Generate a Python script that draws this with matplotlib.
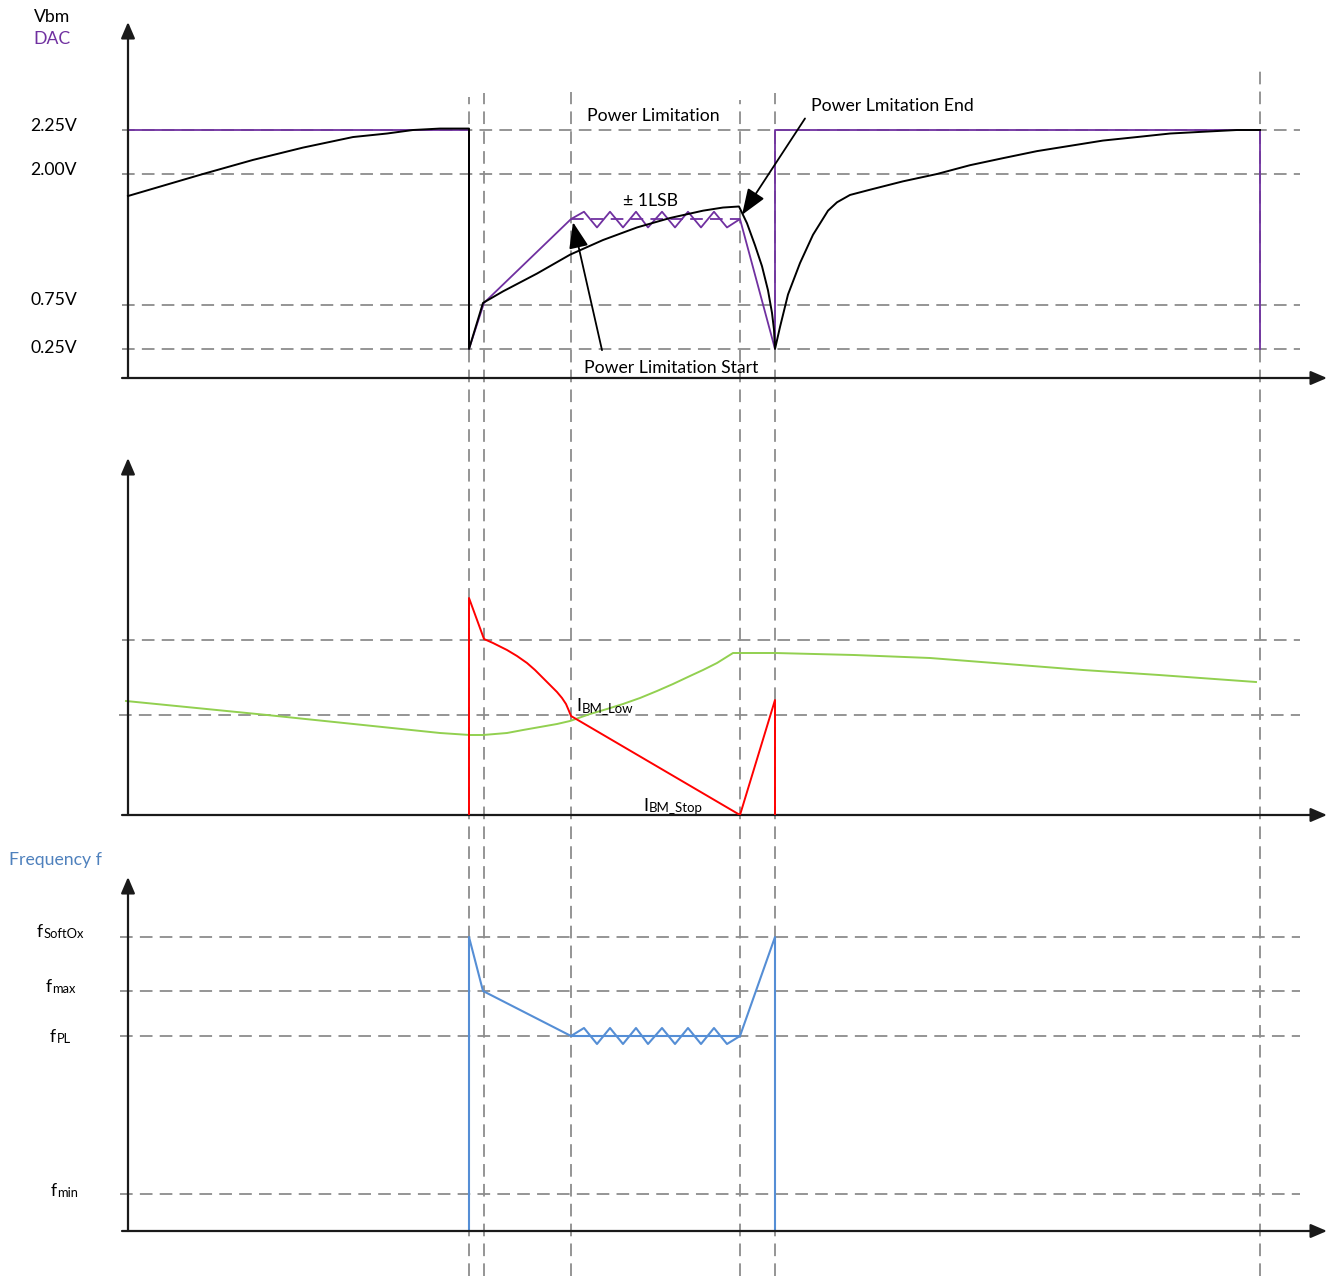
import numpy as np
import matplotlib
matplotlib.use("Agg")
import matplotlib.pyplot as plt

plt.rcParams['font.family'] = ['Lato', 'DejaVu Sans']

# ---------------- data (time in arbitrary units) ----------------
T_EVENTS = [34.1, 35.6, 44.3, 61.2, 64.7, 113.2]

# top panel: Vbm / DAC in volts
V_LEVELS = [0.25, 0.75, 2.00, 2.25]
V_LABELS = ["0.25V", "0.75V", "2.00V", "2.25V"]

VBM_T = [0.0, 2.5, 7.5, 12.5, 17.5, 22.5, 25.9, 28.5, 31.2, 34.1,
         34.1, 35.5, 37.5, 40.9, 44.2, 47.5, 50.9, 54.2, 57.5, 59.5, 61.1,
         61.9, 62.7, 63.4, 64.0, 64.4, 64.6, 64.7,
         65.2, 66.0, 67.2, 68.5, 70.0, 70.9, 72.2, 74.2, 77.5, 80.9, 84.2,
         87.5, 90.9, 94.2, 97.5, 100.9, 104.2, 107.5, 110.9, 113.2]
VBM_V = [1.79, 1.86, 2.00, 2.08, 2.15, 2.21, 2.23, 2.25, 2.26, 2.26,
         0.25, 0.77, 0.88, 1.05, 1.23, 1.37, 1.49, 1.58, 1.65, 1.68, 1.69,
         1.53, 1.32, 1.12, 0.89, 0.66, 0.47, 0.25,
         0.50, 0.85, 1.15, 1.42, 1.65, 1.73, 1.80, 1.85, 1.93, 2.00, 2.05,
         2.09, 2.13, 2.16, 2.19, 2.21, 2.23, 2.24, 2.25, 2.25]

DAC_T = [0.0, 34.1, 34.1, 35.6, 44.3, 45.6, 46.9, 48.2, 49.5, 50.8, 52.0, 53.4,
         54.7, 56.0, 57.3, 58.6, 59.9, 61.2, 64.7, 64.7, 113.2, 113.2]
DAC_V = [2.25, 2.25, 0.25, 0.77, 1.57, 1.64, 1.49, 1.64, 1.49, 1.64, 1.49, 1.64,
         1.49, 1.64, 1.49, 1.64, 1.49, 1.57, 0.25, 2.25, 2.25, 0.25]
DAC_FLAT_T = [44.3, 61.2]
DAC_FLAT_V = [1.57, 1.57]

# middle panel: currents (relative units)
I_LEVELS = [1.00, 1.75]
IBM_T = [34.1, 34.1, 35.6, 36.5, 37.9, 38.9, 39.9, 40.7, 41.5, 42.2, 42.9,
         43.4, 43.8, 44.1, 44.3, 61.2, 64.7, 64.7]
IBM_V = [0.0, 2.17, 1.76, 1.72, 1.65, 1.59, 1.52, 1.45, 1.37, 1.30, 1.23,
         1.17, 1.11, 1.04, 0.99, 0.0, 1.15, 0.0]
ILOAD_T = [-0.2, 13.9, 31.2, 34.2, 35.5, 37.9, 39.5, 41.2, 42.9, 44.2, 46.2,
           47.9, 49.5, 51.2, 52.9, 54.5, 56.2, 57.5, 58.9, 60.5, 64.7, 72.6,
           80.2, 87.9, 95.5, 103.1, 112.8]
ILOAD_V = [1.14, 1.00, 0.82, 0.80, 0.80, 0.82, 0.85, 0.88, 0.91, 0.94, 1.01,
           1.06, 1.11, 1.17, 1.24, 1.31, 1.39, 1.45, 1.52, 1.62, 1.62, 1.60,
           1.57, 1.51, 1.45, 1.40, 1.33]

# bottom panel: frequency (relative units)
F_LEVELS = [0.37, 1.95, 2.40, 2.94]
F_SUB = ["min", "PL", "max", "SoftOx"]
FREQ_T = [34.1, 34.1, 35.5, 44.3, 45.6, 46.9, 48.2, 49.5, 50.8, 52.0, 53.4,
          54.7, 56.0, 57.3, 58.6, 59.9, 61.2, 64.7, 64.7]
FREQ_V = [0.0, 2.94, 2.40, 1.95, 2.03, 1.87, 2.03, 1.87, 2.03, 1.87, 2.03,
          1.87, 2.03, 1.87, 2.03, 1.87, 1.95, 2.94, 0.0]
FREQ_FLAT_T = [44.3, 61.2]
FREQ_FLAT_V = [1.95, 1.95]

# ---------------- layout ----------------
W, H = 1337, 1276
fig = plt.figure(figsize=(W / 100, H / 100), dpi=100)


def tx(px):
    return (px - 128) / 10.0


XLIM = (tx(0), tx(W))
GRID = dict(color='#8c8c8c', lw=1.3, linestyle=(0, (7, 4)), zorder=1)
AX_ARROW = dict(arrowstyle='-|>,head_length=0.7,head_width=0.3', lw=1.6,
                color='#1a1a1a', shrinkA=0, shrinkB=0, mutation_scale=14)
PTR_ARROW = dict(arrowstyle='-|>,head_length=0.8,head_width=0.3', lw=1.3,
                 color='black', shrinkA=0, shrinkB=0, mutation_scale=20)
FS = 12.7

# background axes for event lines
bg = fig.add_axes([0, 0, 1, 1])
bg.set_xlim(*XLIM)
bg.set_ylim(0, 1)
bg.axis('off')
EVENT_TOP_PX = [97, 93, 92, 100, 93, 70]
for t, top in zip(T_EVENTS, EVENT_TOP_PX):
    bg.axvline(t, ymin=0, ymax=(H - top) / H, **GRID)


def panel(base, top):
    ax = fig.add_axes([0, (H - base) / H, 1, (base - top) / H])
    ax.set_xlim(*XLIM)
    ax.axis('off')
    return ax


def axis_arrows(ax, ytop):
    ax.annotate('', xy=(0, ytop), xytext=(0, 0), arrowprops=AX_ARROW,
                annotation_clip=False)
    ax.annotate('', xy=(tx(1327), 0), xytext=(tx(122), 0), arrowprops=AX_ARROW,
                annotation_clip=False)


def two_part(ax, x, y, main, sub, size=12.5, sub_size=9.3, color='black'):
    t1 = ax.text(x, y, main, fontsize=size, va='baseline', ha='left', color=color)
    ax.annotate(sub, xy=(1, 0), xycoords=t1, xytext=(0.3, 0),
                textcoords='offset points', fontsize=sub_size, va='bottom',
                ha='left', color=color)


# ---- top panel ----
ax1 = panel(378, 22)
V_KNOTS = [0, 0.25, 0.75, 2.0, 2.25, 3.0]
H_KNOTS = [0, 29, 73, 204, 248, 356]
ax1.set_yscale('function', functions=(lambda v: np.interp(v, V_KNOTS, H_KNOTS),
                                      lambda h: np.interp(h, H_KNOTS, V_KNOTS)))
ax1.set_ylim(0, 3.0)
V_LABEL_DY_PT = [0.4, 3.3, 2.6, 2.6]
for lv, lab, dy in zip(V_LEVELS, V_LABELS, V_LABEL_DY_PT):
    ax1.plot([tx(122), tx(1300)], [lv, lv], **GRID)
    ax1.annotate(lab, xy=(tx(77), lv), xytext=(0, dy), textcoords='offset points',
                 ha='right', va='center', fontsize=FS)
ax1.plot(DAC_T, DAC_V, color='#7030A0', lw=1.3, zorder=3)
ax1.plot(DAC_FLAT_T, DAC_FLAT_V, color='#7030A0', lw=1.3, zorder=3,
         linestyle=(0, (7, 4)))
ax1.plot(VBM_T, VBM_V, color='black', lw=1.4, zorder=4)
axis_arrows(ax1, 3.0)
ax1.text(tx(653), 2.35, 'Power Limitation', ha='center', va='center', fontsize=FS)
ax1.text(tx(651), 1.74, '± 1LSB', ha='center', va='center', fontsize=FS)
ax1.text(tx(671), 0.09, 'Power Limitation Start', ha='center', va='center', fontsize=FS)
ax1.text(tx(892), 2.42, 'Power Lmitation End', ha='center', va='center', fontsize=FS)
ax1.annotate('', xy=(tx(573), 1.54), xytext=(tx(602), 0.24), arrowprops=PTR_ARROW,
             annotation_clip=False)
ax1.annotate('', xy=(tx(742), 1.61), xytext=(tx(805), 2.33), arrowprops=PTR_ARROW,
             annotation_clip=False)
fig.text(52 / W, 1 - 17 / H, 'Vbm', ha='center', va='center', fontsize=FS)
fig.text(52 / W, 1 - 39 / H, 'DAC', ha='center', va='center', fontsize=FS,
         color='#7030A0')

# ---- middle panel ----
ax2 = panel(815, 458)
ax2.set_ylim(0, 3.57)
ax2.plot([tx(119), tx(1300)], [I_LEVELS[0]] * 2, **GRID)
ax2.plot([tx(122), tx(1300)], [I_LEVELS[1]] * 2, **GRID)
ax2.plot(ILOAD_T, ILOAD_V, color='#92D050', lw=1.4, zorder=3)
ax2.plot(IBM_T, IBM_V, color='#FF0000', lw=1.4, zorder=4)
axis_arrows(ax2, 3.57)
two_part(ax2, tx(576), 1.04, 'I', 'BM_Low', size=13, sub_size=9.5)
two_part(ax2, tx(643), 0.04, 'I', 'BM_Stop', size=13, sub_size=9.5)

# ---- bottom panel ----
ax3 = panel(1231, 877)
ax3.set_ylim(0, 3.54)
F_LABEL_X_PX = [51, 50, 46, 37]
F_LABEL_DY = [-0.02, -0.06, -0.01, 0.0]
for lv, sub, xp, dy in zip(F_LEVELS, F_SUB, F_LABEL_X_PX, F_LABEL_DY):
    ax3.plot([tx(120), tx(1300)], [lv, lv], **GRID)
    two_part(ax3, tx(xp), lv + dy, 'f', sub)
ax3.plot(FREQ_FLAT_T, FREQ_FLAT_V, color='#558ED5', lw=1.5, zorder=3)
ax3.plot(FREQ_T, FREQ_V, color='#558ED5', lw=1.5, zorder=3)
axis_arrows(ax3, 3.54)
fig.text(55 / W, 1 - 860 / H, 'Frequency f', ha='center', va='center',
         fontsize=FS, color='#4F81BD')

fig.savefig('out.png', dpi=100)
